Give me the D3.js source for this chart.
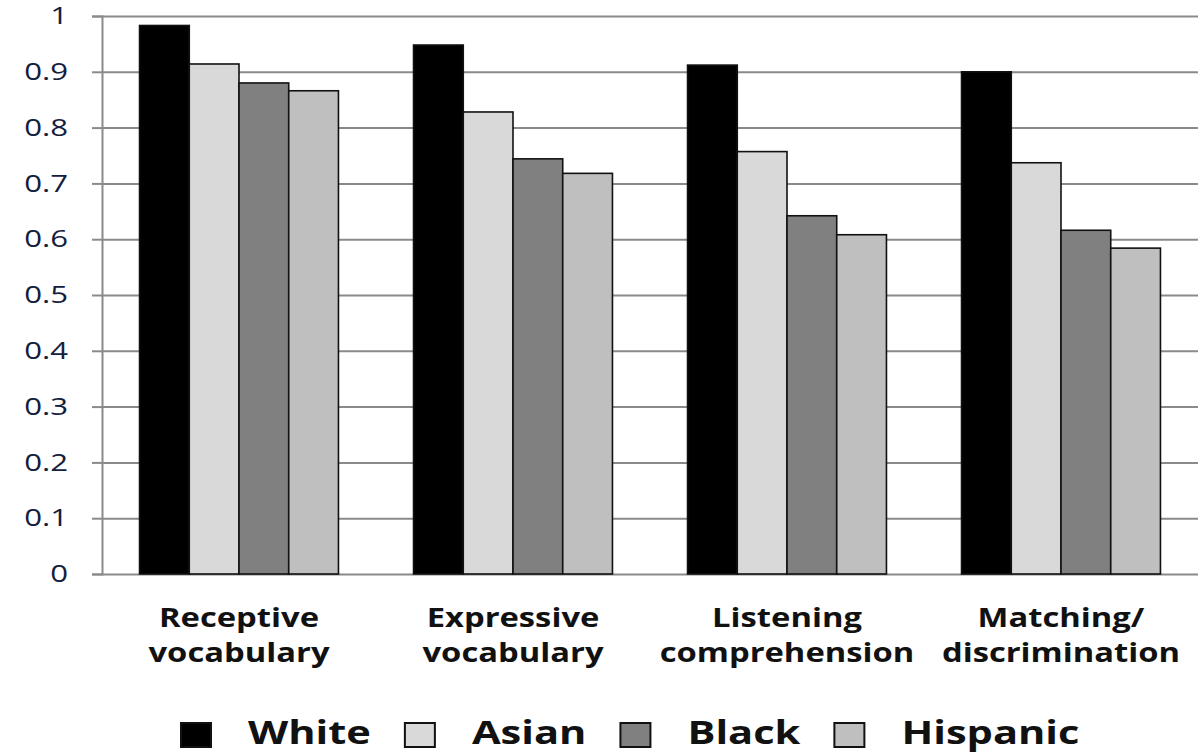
<!DOCTYPE html>
<html>
<head>
<meta charset="utf-8">
<script src="https://cdn.jsdelivr.net/npm/d3@7"></script>
<style>
  body { margin: 0; background: #fff; }
  text { font-family: "Open Sans", "DejaVu Sans", sans-serif; font-weight: 700; }
</style>
</head>
<body>
<div id="chart"></div>
<script>
// data
var categories = [["Receptive", "vocabulary"], ["Expressive", "vocabulary"],
                  ["Listening", "comprehension"], ["Matching/", "discrimination"]];
var series = ["White", "Asian", "Black", "Hispanic"];
var white    = [0.983, 0.948, 0.912, 0.900];
var asian    = [0.914, 0.828, 0.757, 0.737];
var black    = [0.880, 0.744, 0.642, 0.616];
var hispanic = [0.866, 0.718, 0.608, 0.584];
var yTicks = [0, 0.1, 0.2, 0.3, 0.4, 0.5, 0.6, 0.7, 0.8, 0.9, 1];
var yTickLabels = ["0", "0.1", "0.2", "0.3", "0.4", "0.5", "0.6", "0.7", "0.8", "0.9", "1"];

var colors = {"White": "#000000", "Asian": "#d9d9d9", "Black": "#808080", "Hispanic": "#bfbfbf"};
var values = {"White": white, "Asian": asian, "Black": black, "Hispanic": hispanic};

var W = 1201, H = 753;
var plotL = 102, plotR = 1198, plotT = 16, plotB = 574;
var sx = 1.26;   // the original is stretched sideways
var sxLeg = 1.30;

var svg = d3.select("#chart").append("svg")
  .attr("width", W)
  .attr("height", H);

var catNames = categories.map(function(c) { return c.join(" "); });

var x0 = d3.scaleBand()
  .domain(catNames)
  .range([plotL, plotR])
  .paddingInner(0.274)
  .paddingOuter(0.137);

var x1 = d3.scaleBand()
  .domain(series)
  .range([0, x0.bandwidth()]);

var y = d3.scaleLinear()
  .domain([0, 1])
  .range([plotB, plotT]);

// gridlines
svg.append("g")
  .attr("class", "grid")
  .attr("transform", "translate(" + plotL + ",0)")
  .call(d3.axisLeft(y).tickValues(yTicks).tickSize(-(plotR - plotL)).tickFormat(""))
  .call(function(g) { g.select(".domain").remove(); })
  .selectAll("line")
    .attr("stroke", "#8a8a8a")
    .attr("stroke-width", 2);

// y axis with ticks + labels
var yAxis = svg.append("g")
  .attr("transform", "translate(" + plotL + ",0)")
  .call(d3.axisLeft(y).tickValues(yTicks).tickSize(10).tickPadding(24)
    .tickFormat(function(d, i) { return yTickLabels[i]; }));

yAxis.select(".domain")
  .attr("stroke", "#8a8a8a")
  .attr("stroke-width", 2);
yAxis.selectAll(".tick line")
  .attr("stroke", "#8a8a8a")
  .attr("stroke-width", 2);
yAxis.selectAll(".tick text")
  .attr("fill", "#13203d")
  .style("font-size", "24px")
  .style("font-weight", 500)
  .attr("x", -34 / 1.3)
  .attr("transform", "scale(1.3,1)");

// bars
var groups = svg.append("g").selectAll("g")
  .data(catNames)
  .enter().append("g")
    .attr("transform", function(d) { return "translate(" + x0(d) + ",0)"; });

groups.selectAll("rect")
  .data(function(d, i) { return series.map(function(s) { return {s: s, v: values[s][i]}; }); })
  .enter().append("rect")
    .attr("x", function(d) { return x1(d.s); })
    .attr("y", function(d) { return y(d.v); })
    .attr("width", x1.bandwidth())
    .attr("height", function(d) { return plotB - y(d.v); })
    .attr("fill", function(d) { return colors[d.s]; })
    .attr("stroke", "#111")
    .attr("stroke-width", 1.6);

// category labels
var catLabels = svg.append("g").selectAll("g")
  .data(categories)
  .enter().append("g")
    .attr("transform", function(d, i) { return "translate(" + (x0(catNames[i]) + x0.bandwidth() / 2) + ",0) scale(" + sx + ",1)"; });

catLabels.selectAll("text")
  .data(function(d) { return d; })
  .enter().append("text")
    .attr("text-anchor", "middle")
    .attr("y", function(d, i) { return 627 + i * 35; })
    .attr("fill", "#111")
    .style("font-size", "26px")
    .text(function(d) { return d; });

// legend
var legend = svg.append("g");
var lx = 181;
series.forEach(function(s) {
  legend.append("rect")
    .attr("x", lx)
    .attr("y", 723)
    .attr("width", 30)
    .attr("height", 24)
    .attr("fill", colors[s])
    .attr("stroke", "#111")
    .attr("stroke-width", 2);
  var t = legend.append("text")
    .attr("transform", "translate(" + (lx + 67) + ",744) scale(" + sxLeg + ",1)")
    .attr("fill", "#111")
    .style("font-size", "32px")
    .text(s);
  lx += 67 + t.node().getComputedTextLength() * sxLeg + 34;
});
</script>
</body>
</html>
